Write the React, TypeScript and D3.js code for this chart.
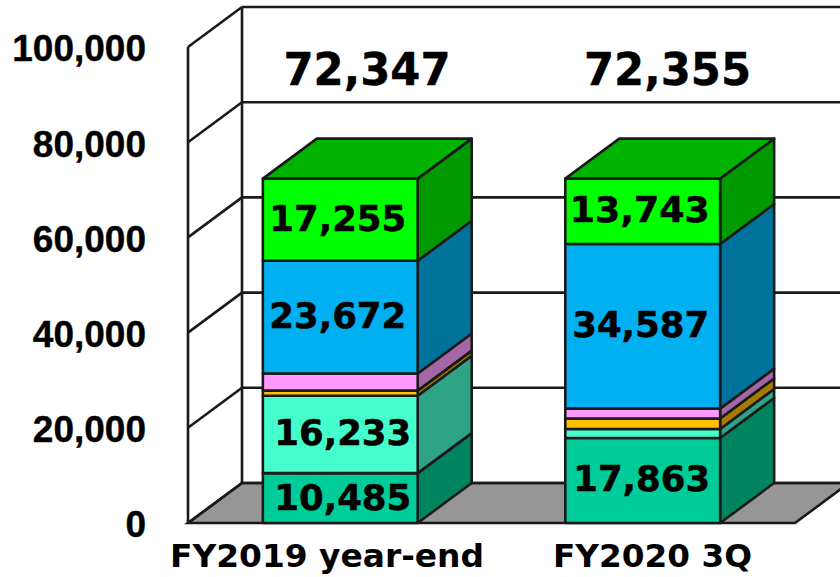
import React from "react";
import * as d3 from "d3";

const categories = ["FY2019 year-end", "FY2020 3Q"];
const totals = [72347, 72355];
const seriesNames = ["teal", "aqua", "orange", "pink", "blue", "green"];
const teal = [10485, 17863];
const aqua = [16233, 1900];
const orange = [1100, 2200];
const pink = [3602, 2062];
const blue = [23672, 34587];
const green = [17255, 13743];
const labelled = [
  [true, true],
  [true, false],
  [false, false],
  [false, false],
  [true, true],
  [true, true],
];
const frontColors = ["#00cc99", "#44ffcc", "#ffc000", "#ff99ff", "#00b0f0", "#00ff00"];
const sideColors = ["#00845f", "#2fa484", "#a67c00", "#a566a5", "#00739d", "#009900"];
const topColor = "#00b300";
const ticks = [0, 20000, 40000, 60000, 80000, 100000];
const values = [teal, aqua, orange, pink, blue, green];
const labelShiftX = [[2.5, -1], [2.5, 0], [0, 0], [0, 0], [-2.5, -2], [-2.5, -3]];

const W = 840, H = 577;
const dx = 54, dy = -40;
const y = d3.scaleLinear().domain([0, 100000]).range([523, 47]);
const xBand = d3.scaleBand().domain(categories).range([188, 795]).paddingInner(0.488).paddingOuter(0.2475);
const line = "#1a1a1a";
const sw = 2.6;
const pts = (a: number[][]) => a.map((p) => p.join(",")).join(" ");
const fmt = d3.format(",");
const numFont = "'DejaVu Sans', Verdana, sans-serif";
const tickFont = "'Liberation Sans', Arial, sans-serif";

export default function App() {
  const stacked = d3.stack<number>().keys(d3.range(seriesNames.length).map(String)).value((i, k) => values[+k][i])(d3.range(categories.length));
  const x0 = y(0);
  return (
    <svg width={W} height={H} style={{ position: "absolute", left: 0, top: 0, background: "#fff" }}>
      <polygon points={pts([[188, x0], [795, x0], [795 + dx, x0 + dy], [188 + dx, x0 + dy]])} fill="#969696" stroke={line} strokeWidth={sw} />
      {ticks.map((t) => (
        <g key={t} fill="none" stroke={line} strokeWidth={sw}>
          <line x1={188} y1={y(t)} x2={188 + dx} y2={y(t) + dy} />
          <line x1={188 + dx} y1={y(t) + dy} x2={W} y2={y(t) + dy} />
        </g>
      ))}
      <line x1={188} y1={y(0)} x2={188} y2={y(100000)} stroke={line} strokeWidth={sw} />
      <line x1={188 + dx} y1={y(0) + dy} x2={188 + dx} y2={y(100000) + dy} stroke={line} strokeWidth={sw} />
      {categories.map((c, i) => {
        const l = xBand(c)!;
        const r = l + xBand.bandwidth();
        const topV = stacked[stacked.length - 1][i][1];
        return (
          <g key={c} stroke={line} strokeWidth={sw} strokeLinejoin="round">
            {stacked.map((s, k) => {
              const a = y(s[i][0]), b = y(s[i][1]);
              return (
                <g key={k}>
                  <polygon points={pts([[r, a], [r + dx, a + dy], [r + dx, b + dy], [r, b]])} fill={sideColors[k]} />
                  <rect x={l} y={b} width={r - l} height={a - b} fill={frontColors[k]} />
                </g>
              );
            })}
            <polygon points={pts([[l, y(topV)], [r, y(topV)], [r + dx, y(topV) + dy], [l + dx, y(topV) + dy]])} fill={topColor} />
          </g>
        );
      })}
      {categories.map((c, i) => {
        const mid = xBand(c)! + xBand.bandwidth() / 2;
        return (
          <g key={c} fontFamily={numFont} fontWeight="bold" fill="#000" textAnchor="middle">
            {stacked.map((s, k) =>
              labelled[k][i] ? (
                <text key={k} x={mid + labelShiftX[k][i]} y={(y(s[i][0]) + y(s[i][1])) / 2 - 2 + (k === 0 && i === 0 ? 1 : 0)} dy="0.36em" fontSize={36} stroke="#000" strokeWidth={0.5} textLength={k === 5 && i === 1 ? 140 : 137} lengthAdjust="spacingAndGlyphs">
                  {fmt(values[k][i])}
                </text>
              ) : null
            )}
            <text x={i === 0 ? 367 : 667.5} y={85} fontSize={45} stroke="#000" strokeWidth={0.4} textLength={167} lengthAdjust="spacingAndGlyphs">{fmt(totals[i])}</text>
            <text x={i === 0 ? 327 : 652.5} y={567} fontSize={31.5} textLength={i === 0 ? 314 : 199} lengthAdjust="spacingAndGlyphs">{c}</text>
          </g>
        );
      })}
      {ticks.map((t) => (
        <text key={t} x={146} y={y(t) + 1} dy="0.36em" textAnchor="end" fontFamily={tickFont} fontWeight="bold" fontSize={37} fill="#000" stroke="#000" strokeWidth={0.4}>
          {fmt(t)}
        </text>
      ))}
    </svg>
  );
}
